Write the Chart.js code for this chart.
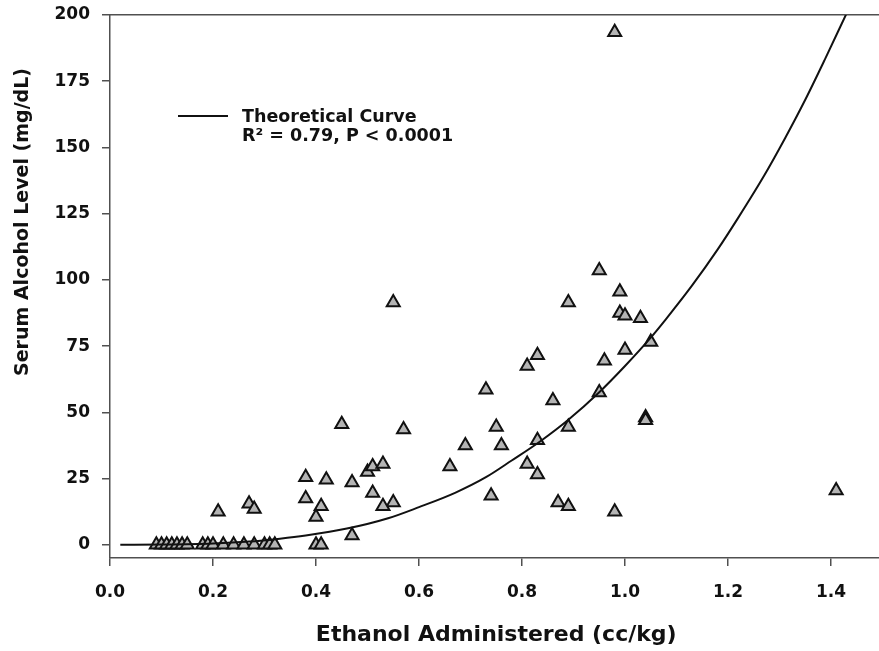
<!DOCTYPE html>
<html><head><meta charset="utf-8">
<script src="https://cdn.jsdelivr.net/npm/chart.js@4/dist/chart.umd.min.js"></script>
<style>html,body{margin:0;padding:0;background:#fff;overflow:hidden;width:879px;height:651px}canvas{display:block}</style>
</head><body>
<canvas id="c" width="892" height="651" style="width:892px;height:651px"></canvas>
<script>
// Observed data (ethanol dose cc/kg vs serum alcohol mg/dL)
const doseX = [0.09,0.10,0.11,0.12,0.13,0.14,0.15,0.18,0.19,0.20,0.22,0.24,0.26,0.28,0.30,0.31,0.32,0.40,0.41,
  0.21,0.27,0.28,
  0.38,0.38,0.42,0.41,0.40,0.47,0.47,0.45,
  0.50,0.51,0.53,0.51,0.55,0.53,0.55,0.57,
  0.66,0.69,0.73,0.74,0.75,0.76,
  0.81,0.83,0.81,0.83,0.83,0.86,0.87,0.89,0.89,0.89,
  0.95,0.95,0.96,0.98,0.98,0.99,0.99,1.00,1.00,1.03,1.04,1.04,1.05,
  1.41];
const levelY = [0,0,0,0,0,0,0,0,0,0,0,0,0,0,0,0,0,0,0,
  12.5,15.5,13.5,
  25.5,17.5,24.5,14.5,10.5,23.5,3.5,45.5,
  27.5,29.5,30.5,19.5,16,14.5,91.5,43.5,
  29.5,37.5,58.5,18.5,44.5,37.5,
  67.5,71.5,30.5,26.5,39.5,54.5,16,14.5,44.5,91.5,
  103.5,57.5,69.5,12.5,193.5,95.5,87.5,86.5,73.5,85.5,48,47,76.5,
  20.5];
// Theoretical curve
const curveX = [0.02,0.10,0.20,0.27,0.33,0.38,0.46,0.54,0.60,0.67,0.73,0.78,0.835,0.89,0.95,1.00,1.05,1.08,1.13,1.18,1.22,1.27,1.31,1.35,1.39,1.43];
const curveY = [0,0.1,0.5,1.2,2.3,3.5,6.1,10.0,14.2,19.6,25.5,31.8,39.0,47.2,57.6,67.5,78.2,85.3,97.8,111.5,123.5,139.3,153.2,168,184,200.5];
const xTicks = [0,0.2,0.4,0.6,0.8,1.0,1.2,1.4];
const yTicks = [0,25,50,75,100,125,150,175,200];
const xTitle = 'Ethanol Administered (cc/kg)';
const yTitle = 'Serum Alcohol Level (mg/dL)';
const legendText = ['Theoretical Curve', 'R\u00B2 = 0.79, P < 0.0001'];

const scatterPts = doseX.map((x,i)=>({x:x,y:levelY[i]}));
const curvePts = curveX.map((x,i)=>({x:x,y:curveY[i]}));

const FONT = "'DejaVu Sans', sans-serif";
const AXIS = '#505050';
const TEXT = '#111111';

function noPad(s){ s.paddingLeft = 0; s.paddingRight = 0; s.paddingTop = 0; s.paddingBottom = 0; }

const overlay = {
  id:'overlay',
  afterDraw(chart){
    const ctx = chart.ctx, a = chart.chartArea;
    ctx.save();
    // legend
    ctx.strokeStyle = '#111'; ctx.lineWidth = 2;
    ctx.beginPath(); ctx.moveTo(a.left+68, a.top+101); ctx.lineTo(a.left+118, a.top+101); ctx.stroke();
    ctx.fillStyle = TEXT; ctx.font = "bold 17.5px " + FONT;
    ctx.textBaseline = 'middle'; ctx.textAlign = 'left';
    ctx.fillText(legendText[0], a.left+132, a.top+102);
    ctx.fillText(legendText[1], a.left+132, a.top+121);
    // y-axis title
    ctx.translate(23, 222);
    ctx.rotate(-Math.PI/2);
    ctx.textAlign = 'center';
    ctx.font = "bold 19px " + FONT;
    ctx.fillText(yTitle, 0, 0);
    ctx.restore();
  }
};

new Chart(document.getElementById('c'), {
  type:'scatter',
  data:{datasets:[
    {label:'Observed', data:scatterPts, pointStyle:'triangle', pointRadius:7.5, pointHoverRadius:7.5,
     backgroundColor:'#b4b4b4', borderColor:'#111', borderWidth:2, showLine:false, order:2},
    {label:'Theoretical Curve', type:'line', data:curvePts, borderColor:'#111', borderWidth:2,
     pointRadius:0, cubicInterpolationMode:'monotone', fill:false, order:1}
  ]},
  options:{
    responsive:false, animation:false, devicePixelRatio:1,
    layout:{padding:{left:0,right:1,top:15,bottom:0}},
    plugins:{legend:{display:false}, tooltip:{enabled:false}},
    scales:{
      x:{type:'linear', position:'bottom', min:0, max:1.5,
        afterBuildTicks(s){ s.ticks = xTicks.map(v=>({value:v})); },
        afterFit(s){ s.height = 93; noPad(s); },
        border:{display:true, color:AXIS, width:1.5},
        grid:{display:true, drawOnChartArea:false, drawTicks:true, tickLength:8, color:AXIS, lineWidth:1.5},
        ticks:{font:{family:FONT, size:17, weight:'bold'}, color:TEXT, padding:16, maxRotation:0,
          callback:v=>Number(v).toFixed(1)},
        title:{display:true, text:xTitle, color:TEXT, font:{family:FONT, size:22, weight:'bold'}, padding:{top:0,bottom:3}}
      },
      x2:{type:'linear', position:'top', min:0, max:1.5, display:true,
        afterFit(s){ s.height = 0; noPad(s); },
        border:{display:true, color:AXIS, width:1.5},
        grid:{display:false}, ticks:{display:false}
      },
      y:{type:'linear', position:'left', min:-5, max:200,
        afterBuildTicks(s){ s.ticks = yTicks.map(v=>({value:v})); },
        afterFit(s){ s.width = 110; noPad(s); },
        border:{display:true, color:AXIS, width:1.5},
        grid:{display:true, drawOnChartArea:false, drawTicks:true, tickLength:8, color:AXIS, lineWidth:1.5},
        ticks:{font:{family:FONT, size:17, weight:'bold'}, color:TEXT, padding:12}
      }
    }
  },
  plugins:[overlay]
});
</script>
</body></html>
